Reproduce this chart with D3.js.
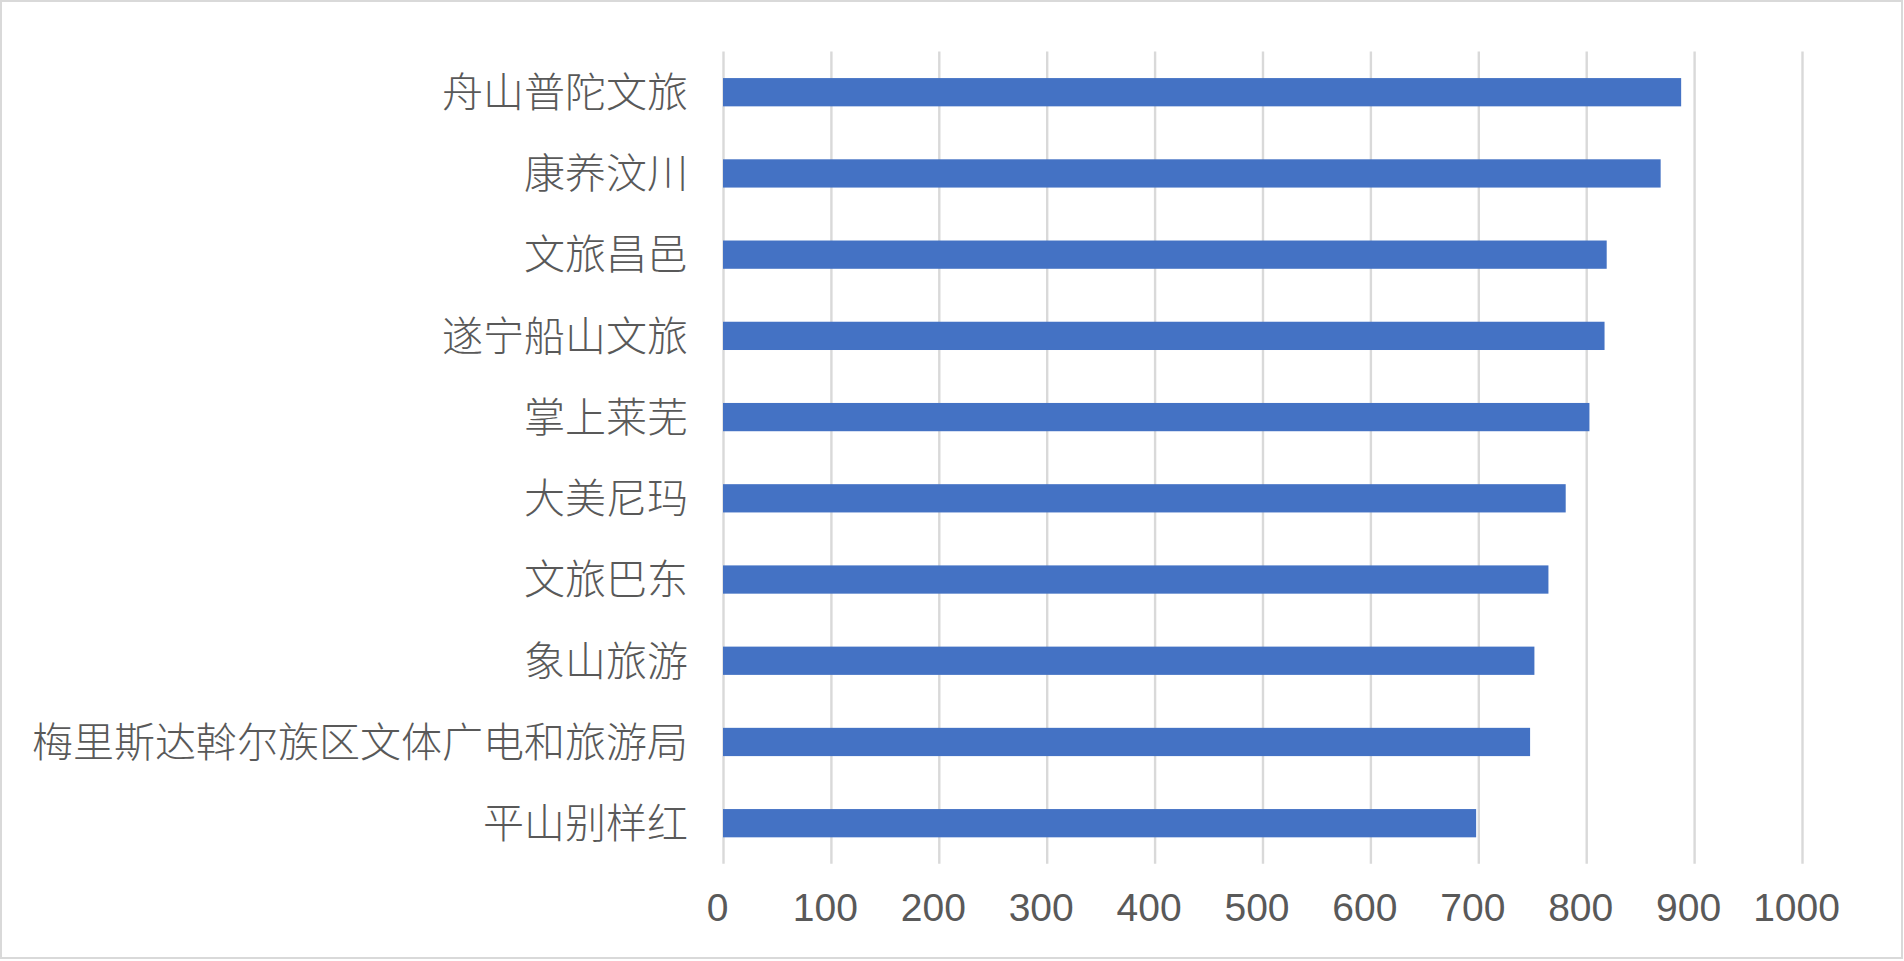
<!DOCTYPE html>
<html>
<head>
<meta charset="utf-8">
<script src="https://cdn.jsdelivr.net/npm/d3@7/dist/d3.min.js"></script>
<style>
	html, body { margin: 0; padding: 0; background: #fff; }
	svg { display: block; }
	.cat text { font-family: "Noto Sans CJK SC", sans-serif; font-size: 41px; font-weight: 300; fill: #595959; }
	.val text { font-family: "Liberation Sans", Arial, sans-serif; font-size: 39px; fill: #595959; }
</style>
</head>
<body>
<script>
var categories = ["舟山普陀文旅", "康养汶川", "文旅昌邑", "遂宁船山文旅", "掌上莱芜",
			"大美尼玛", "文旅巴东", "象山旅游", "梅里斯达斡尔族区文体广电和旅游局", "平山别样红"];
var values = [888, 869, 819, 817, 803, 781, 765, 752, 748, 698];
var xTicks = [0, 100, 200, 300, 400, 500, 600, 700, 800, 900, 1000];

var width = 1904, height = 961;
// plot area edges (note: "top" is reserved on window)
var pLeft = 723, pRight = 1802, pTop = 51.6, pBottom = 863.8;

var svg = d3.select("body").append("svg")
	.attr("width", width)
	.attr("height", height);

// chart border
svg.append("rect")
	.attr("x", 1).attr("y", 1)
	.attr("width", width - 3).attr("height", height - 4)
	.attr("fill", "#fff")
	.attr("stroke", "#d9d9d9")
	.attr("stroke-width", 2);

var x = d3.scaleLinear().domain([0, 1000]).range([pLeft, pRight]);
var y = d3.scaleBand().domain(categories).range([pTop, pBottom])
	.paddingInner(0.652).paddingOuter(0.326);

// gridlines + value labels
var gx = svg.append("g")
	.attr("class", "val")
	.attr("transform", "translate(0," + pBottom + ")")
	.call(d3.axisBottom(x).tickValues(xTicks).tickSize(-(pBottom - pTop)).tickFormat(d3.format("d")));
gx.select(".domain").remove();
gx.selectAll("line").attr("stroke", "#d9d9d9").attr("stroke-width", 2.4);
gx.selectAll("text")
	.attr("y", 57)
	.attr("dy", 0)
	.attr("dx", -6);

// bars
svg.append("g").selectAll("rect")
	.data(values)
	.enter().append("rect")
	.attr("x", x(0))
	.attr("y", function(d, i){return y(categories[i]);})
	.attr("width", function(d){return x(d) - x(0);})
	.attr("height", y.bandwidth())
	.attr("fill", "#4472c4");

// category labels
var gy = svg.append("g")
	.attr("class", "cat")
	.attr("transform", "translate(" + pLeft + ",0)")
	.call(d3.axisLeft(y).tickSize(0).tickPadding(35));
gy.select(".domain").remove();
gy.selectAll("text").attr("dy", "0.36em");
</script>
</body>
</html>
